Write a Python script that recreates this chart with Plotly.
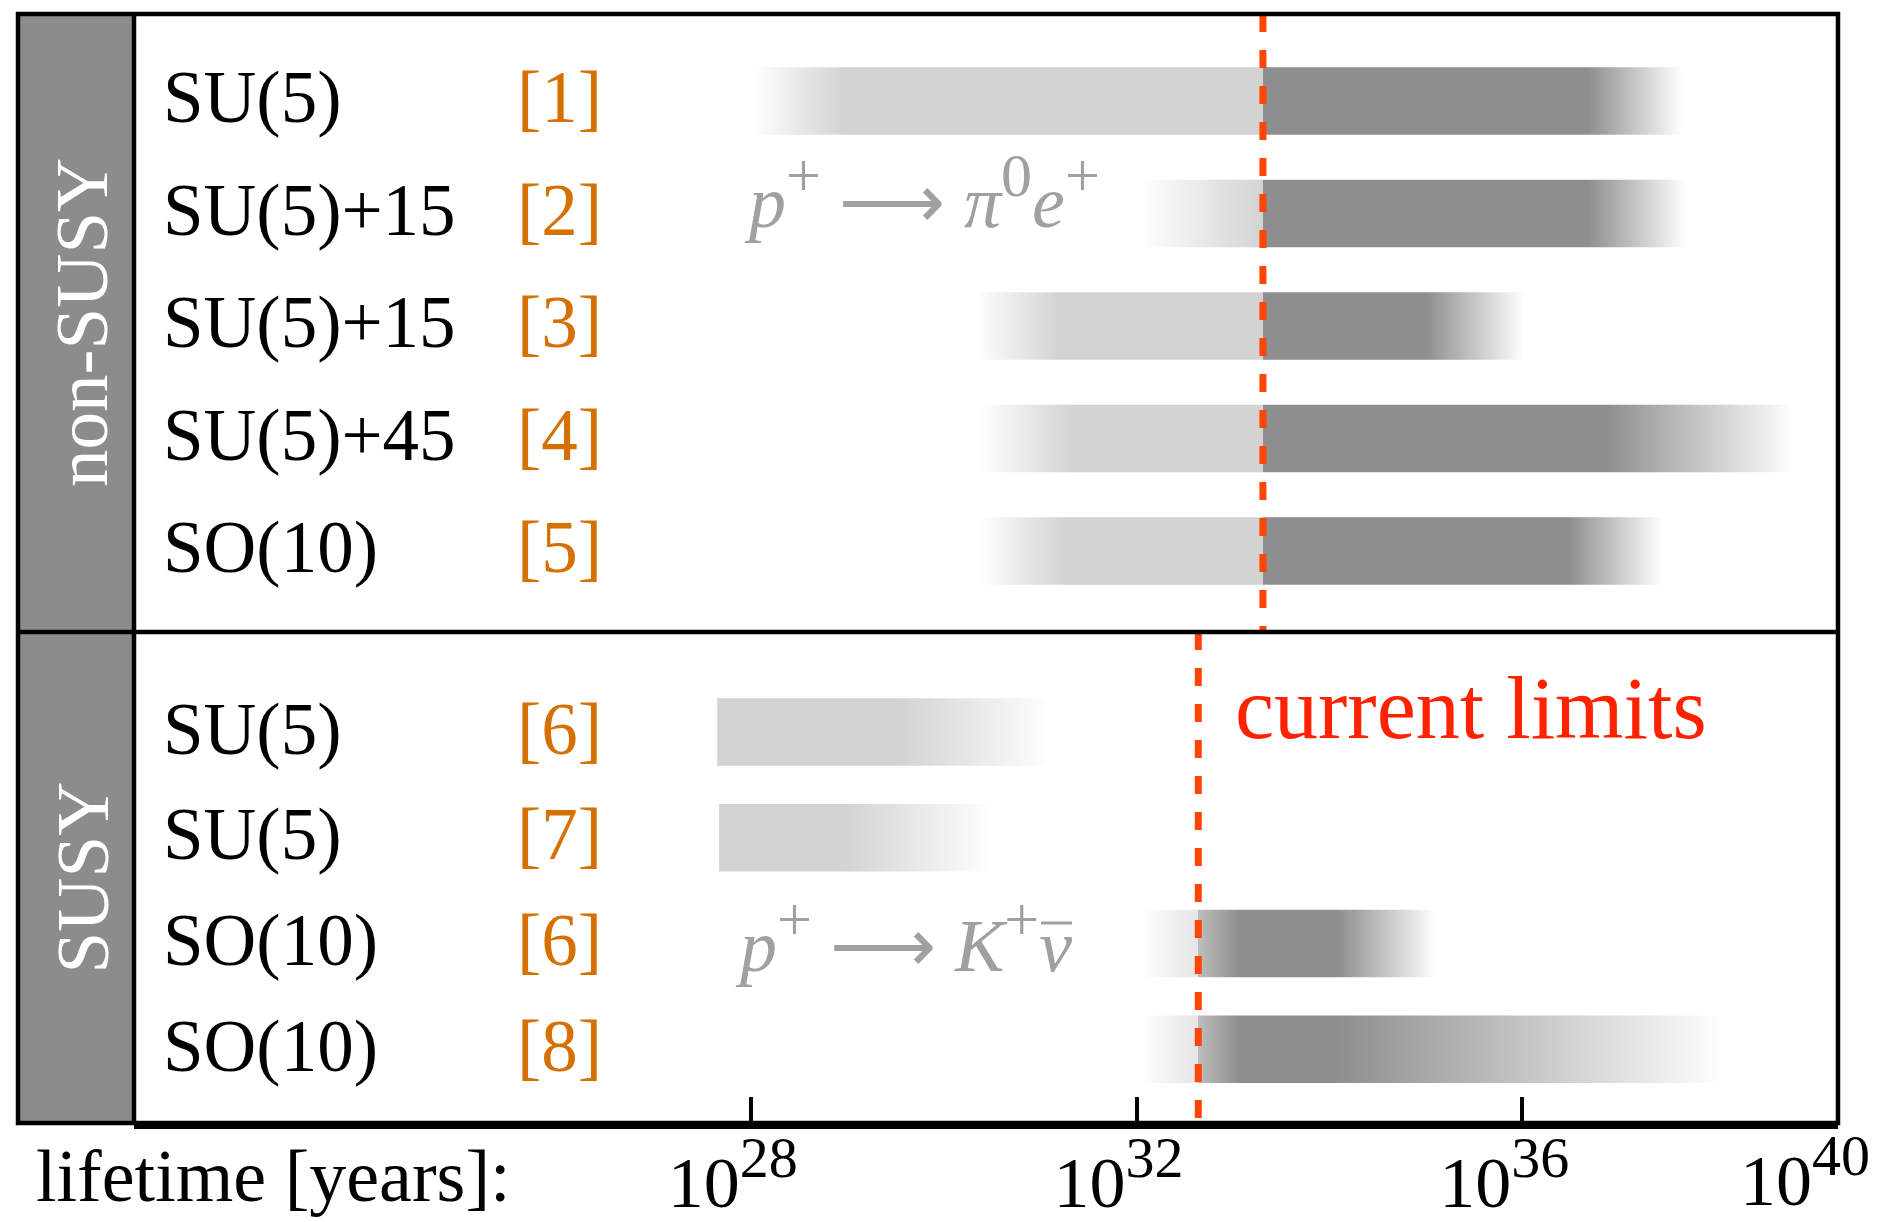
import plotly.graph_objects as go

# ---------------- data (lifetimes as log10(tau / years)) ----------------
models = ["SU(5)", "SU(5)+15", "SU(5)+15", "SU(5)+45", "SO(10)",
          "SU(5)", "SU(5)", "SO(10)", "SO(10)"]
refs = ["[1]", "[2]", "[3]", "[4]", "[5]", "[6]", "[7]", "[6]", "[8]"]
row_group = [0, 0, 0, 0, 0, 1, 1, 1, 1]          # 0 = non-SUSY, 1 = SUSY
fade_start = [28.02, 32.04, 30.33, 30.37, 30.37, 27.65, 27.67, 32.04, 32.04]
full_start = [28.96, 33.30, 31.19, 31.34, 31.26, 27.65, 27.67, 33.06, 33.06]
full_end = [36.68, 36.68, 35.00, 36.87, 36.48, 29.55, 28.96, 34.09, 34.09]
fade_end = [37.66, 37.70, 36.02, 38.83, 37.46, 31.12, 30.53, 35.10, 38.10]
group_names = ["non-SUSY", "SUSY"]
current_limit = [33.31, 32.64]
SUPM = '<sup><span style="font-size:62px">{}</span></sup>'
channel_labels = [
    "<i>p</i>" + SUPM.format("+") + " \u27f6 <i>\u03c0</i>" + SUPM.format("0")
    + "<i>e</i>" + SUPM.format("+"),
    "<i>p</i>" + SUPM.format("+") + " \u27f6 <i>K</i>" + SUPM.format("+")
    + "<i>\u03bd</i>",
]
tick_exponents = [28, 32, 36, 40]

# ---------------- style / layout constants ----------------
W, H = 1883, 1222
PAGE_OFF = 8                      # default body margin of the html page
ML, MR, MT, MB = 126, 53, 6, 107
PW, PH = W - ML - MR, H - MT - MB
FONT = "Liberation Serif"
LIGHT, DARK = 211, 142
BAR_HALF = 0.30
X_RANGE = [21.603, 39.274]
Y_TOP, Y_BOTTOM = -0.7724, 9.0853
DIVIDER = 4.72
MATH_GRAY = "rgb(160,160,160)"


def px_x(p):
    """screen pixel x -> paper x"""
    return (p - PAGE_OFF - ML) / PW


def px_y(p):
    """screen pixel y -> paper y"""
    return (H - MB - (p - PAGE_OFF)) / PH


SIDEBAR_LEFT = px_x(18)

# row positions
row_pos = []
k_susy = 0
for i, g in enumerate(row_group):
    if g == 0:
        row_pos.append(float(i))
    else:
        row_pos.append(5.61 + 0.94 * k_susy)
        k_susy += 1


def gray(v):
    v = int(round(v))
    return f"rgb({v},{v},{v})"


def bar_colorscale(i):
    fs, f0, f1, fe = fade_start[i], full_start[i], full_end[i], fade_end[i]
    lim = current_limit[row_group[i]]

    def alpha(x):
        if f0 <= x <= f1:
            return 1.0
        if x < f0:
            return (x - fs) / (f0 - fs)
        return (fe - x) / (fe - f1)

    def col(x, base):
        return gray(255 - alpha(x) * (255 - base))

    def base_of(x):
        return LIGHT if x < lim else DARK

    pts = sorted(set([fs, f0, f1, fe]))
    stops = []
    span = fe - fs
    inserted = False
    for p in pts:
        if not inserted and fs < lim < fe and lim <= p:
            stops.append([(lim - fs) / span, col(lim, LIGHT)])
            stops.append([(lim - fs) / span, col(lim, DARK)])
            inserted = True
            if p == lim:
                continue
        stops.append([(p - fs) / span, col(p, base_of(p))])
    stops[0][0] = 0.0
    stops[-1][0] = 1.0
    for j in range(1, len(stops)):
        stops[j][0] = max(stops[j][0], stops[j - 1][0])
    return stops


fig = go.Figure()

for i in range(len(models)):
    y = row_pos[i]
    x0, x1 = fade_start[i], fade_end[i]
    fig.add_trace(go.Scatter(
        x=[x0, x1, x1, x0, x0],
        y=[y - BAR_HALF, y - BAR_HALF, y + BAR_HALF, y + BAR_HALF, y - BAR_HALF],
        mode="lines", line=dict(width=0, color="rgba(0,0,0,0)"),
        fill="toself",
        fillgradient=dict(type="horizontal", start=x0, stop=x1,
                          colorscale=bar_colorscale(i)),
        hoverinfo="skip", showlegend=False,
    ))

# current limit lines
group_spans = [(Y_TOP, DIVIDER), (DIVIDER, Y_BOTTOM)]
for g, lim in enumerate(current_limit):
    fig.add_trace(go.Scatter(
        x=[lim, lim], y=list(group_spans[g]), mode="lines",
        line=dict(color="rgb(255,69,0)", width=7, dash="18px,18px"),
        hoverinfo="skip", showlegend=False,
    ))

shapes = [
    dict(type="rect", xref="paper", yref="paper", x0=SIDEBAR_LEFT, x1=0, y0=0, y1=1,
         fillcolor="rgb(140,140,140)", line=dict(width=0)),
    dict(type="rect", xref="paper", yref="paper", x0=SIDEBAR_LEFT, x1=1, y0=0, y1=1,
         line=dict(color="black", width=4.5)),
    dict(type="line", xref="paper", yref="paper", x0=0, x1=0, y0=0, y1=1,
         line=dict(color="black", width=4.5)),
    dict(type="line", xref="paper", yref="y", x0=SIDEBAR_LEFT, x1=1, y0=DIVIDER, y1=DIVIDER,
         line=dict(color="black", width=4.5)),
    # bar over the antineutrino symbol
    dict(type="line", xref="paper", yref="paper", x0=px_x(1041), x1=px_x(1072),
         y0=px_y(923), y1=px_y(923), line=dict(color=MATH_GRAY, width=3)),
]

annotations = []
for i in range(len(models)):
    annotations.append(dict(x=px_x(161), xref="paper", y=row_pos[i], yref="y", yshift=3,
                            text=models[i], showarrow=False, xanchor="left", yanchor="middle",
                            font=dict(family=FONT, size=73, color="black")))
    annotations.append(dict(x=px_x(515), xref="paper", y=row_pos[i], yref="y", yshift=3,
                            text=refs[i], showarrow=False, xanchor="left", yanchor="middle",
                            font=dict(family=FONT, size=73, color="rgb(214,112,0)")))

for g, name in enumerate(group_names):
    annotations.append(dict(x=px_x(82), xref="paper", y=sum(group_spans[g]) / 2, yref="y",
                            text=name, showarrow=False, textangle=-90,
                            xanchor="center", yanchor="middle",
                            font=dict(family=FONT, size=75, color="white")))

annotations.append(dict(x=px_x(742), xref="paper", y=row_pos[1], yref="y", yshift=21,
                        text=channel_labels[0], showarrow=False, xanchor="left", yanchor="middle",
                        font=dict(family=FONT, size=74, color=MATH_GRAY)))
annotations.append(dict(x=px_x(733), xref="paper", y=row_pos[7], yref="y", yshift=8,
                        text=channel_labels[1], showarrow=False, xanchor="left", yanchor="middle",
                        font=dict(family=FONT, size=74, color=MATH_GRAY)))

annotations.append(dict(x=px_x(1233), xref="paper", y=px_y(708), yref="paper",
                        text="current limits", showarrow=False, xanchor="left", yanchor="middle",
                        font=dict(family=FONT, size=88, color="rgb(255,34,0)")))

annotations.append(dict(x=px_x(34), xref="paper", y=px_y(1176), yref="paper",
                        text="lifetime [years]:", showarrow=False, xanchor="left", yanchor="middle",
                        font=dict(family=FONT, size=74, color="black")))

SUPT = '<sup><span style="font-size:58px">{}</span></sup>'
annotations.append(dict(x=px_x(1872), xref="paper", y=px_y(1172), yref="paper",
                        text="10" + SUPT.format(tick_exponents[-1]), showarrow=False,
                        xanchor="right", yanchor="middle",
                        font=dict(family=FONT, size=72, color="black")))

fig.update_layout(
    width=W, height=H,
    margin=dict(l=ML, r=MR, t=MT, b=MB, autoexpand=False),
    paper_bgcolor="white", plot_bgcolor="white",
    showlegend=False,
    shapes=shapes, annotations=annotations,
    xaxis=dict(range=X_RANGE, showgrid=False, zeroline=False, automargin=False,
               showline=True, linewidth=6, linecolor="black",
               ticks="inside", ticklen=26, tickwidth=3.5, tickcolor="black",
               tickvals=tick_exponents[:-1],
               ticktext=["10" + SUPT.format(e) for e in tick_exponents[:-1]],
               tickfont=dict(family=FONT, size=72, color="black"),
               ticklabelshift=-18, ticklabelstandoff=-8, fixedrange=True),
    yaxis=dict(range=[Y_BOTTOM, Y_TOP], visible=False, fixedrange=True, automargin=False),
)

fig.write_html("out.html")
